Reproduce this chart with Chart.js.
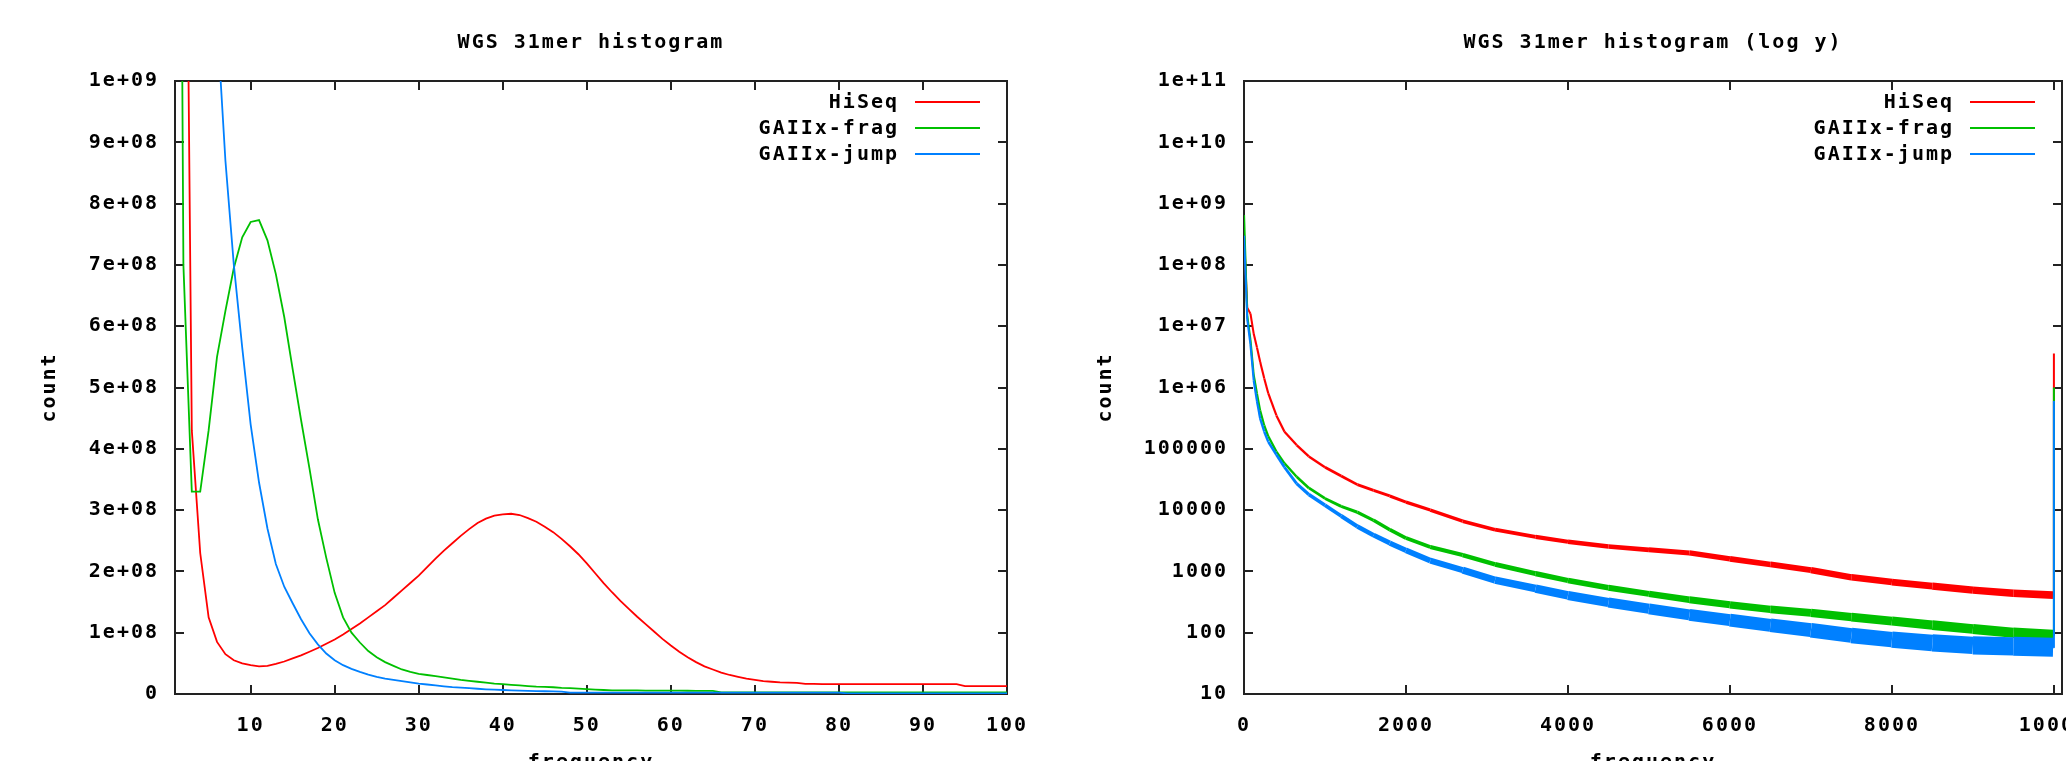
<!DOCTYPE html>
<html>
<head>
<meta charset="utf-8">
<title>WGS 31mer histogram</title>
<script src="https://cdn.jsdelivr.net/npm/chart.js@4.4.1/dist/chart.umd.min.js"></script>
<style>
  html, body { margin: 0; padding: 0; background: #fff; overflow: hidden; }
  #page { position: relative; width: 2066px; height: 761px; overflow: hidden; background: #fff; }
  .panel { position: absolute; top: 0; height: 790px; }
  #linPanel { left: 0; width: 1033px; }
  #logPanel { left: 1033px; width: 1060px; }
</style>
</head>
<body>
<div id="page">
  <div class="panel" id="linPanel"><canvas id="linChart"></canvas></div>
  <div class="panel" id="logPanel"><canvas id="logChart"></canvas></div>
</div>
<script>
// ----- Data: linear panel (x = 1..100, counts in millions) -----
const FREQ = [
  1, 2, 3, 4, 5, 6, 7, 8, 9, 10, 11, 12, 13, 14, 15, 16, 17, 18, 19, 20,
  21, 22, 23, 24, 25, 26, 27, 28, 29, 30, 31, 32, 33, 34, 35, 36, 37, 38, 39, 40,
  41, 42, 43, 44, 45, 46, 47, 48, 49, 50, 51, 52, 53, 54, 55, 56, 57, 58, 59, 60,
  61, 62, 63, 64, 65, 66, 67, 68, 69, 70, 71, 72, 73, 74, 75, 76, 77, 78, 79, 80,
  81, 82, 83, 84, 85, 86, 87, 88, 89, 90, 91, 92, 93, 94, 95, 96, 97, 98, 99, 100
];
const HISEQ_M = [
  2500, 1900, 430, 230, 125, 85, 65, 55, 50, 47, 45, 46, 49, 53, 58, 63, 69, 75, 82, 89,
  97, 106, 115, 125, 135, 145, 157, 169, 181, 193, 207, 221, 234, 246, 258, 269, 279, 286, 291, 293,
  294, 292, 287, 281, 273, 264, 253, 241, 228, 213, 197, 181, 166, 152, 139, 126, 114, 102, 90, 79,
  69, 60, 52, 45, 40, 35, 31, 28, 25, 23, 21, 20, 19, 18.5, 18, 16.5, 16.5, 16, 16, 16,
  16, 16, 16, 16, 16, 16, 16, 16, 16, 16, 16, 16, 16, 16, 13, 13, 13, 13, 13, 13
];
const FRAG_M = [
  3000, 700, 330, 330, 430, 550, 625, 695, 745, 770, 773, 740, 685, 615, 530, 447, 368, 285, 222, 165,
  125, 100, 84, 70, 60, 52, 46, 40, 36, 33, 31, 29, 27, 25, 23, 21.5, 20, 18.5, 17, 16,
  15, 14, 13, 12, 11.5, 11, 10, 9.5, 8.8, 8, 7.2, 6.5, 6, 6, 6, 5.8, 5.6, 5.5, 5.5, 5.5,
  5.4, 5.3, 5.2, 5.1, 5, 2.5, 2.5, 2.5, 2.5, 2.5, 2.5, 2.5, 2.5, 2.5, 2.5, 2.5, 2.5, 2.5, 2.5, 2.5,
  2.5, 2.5, 2.5, 2.5, 2.5, 2.5, 2.5, 2.5, 2.5, 2.5, 2.5, 2.5, 2.5, 2.5, 2.5, 2.5, 2.5, 2.5, 2.5, 2.5
];
const JUMP_M = [
  12000, 8000, 4500, 2800, 1700, 1100, 870, 700, 565, 440, 345, 270, 212, 175, 148, 122, 99, 81, 66, 55,
  47, 41, 36, 31.5, 28, 25, 23, 21, 19, 17, 15.5, 14, 12.5, 11.2, 10.4, 9.5, 8.6, 7.7, 7, 6.5,
  6, 5.5, 5, 4.8, 4.5, 4.3, 4, 2.2, 2.2, 2.2, 2.2, 2.2, 2.2, 2.2, 2.2, 2.2, 2.2, 2.2, 2.2, 2.2,
  2.2, 2.2, 2.2, 2.2, 2.2, 2.2, 2.2, 2.2, 2.2, 2.2, 2.2, 2.2, 2.2, 2.2, 2.2, 2.2, 2.2, 2.2, 2.2, 2.2,
  1, 1, 1, 1, 1, 1, 1, 1, 1, 1, 1, 1, 1, 1, 1, 1, 1, 1, 1, 1
];

// ----- Data: log panel (x = 0..10000) -----
const LOG_FREQ = [1, 40, 80, 120, 160, 200, 250, 300, 400, 500, 650, 800, 1000, 1200, 1400, 1600, 1800, 2000,
  2300, 2700, 3100, 3600, 4000, 4500, 5000, 5500, 6000, 6500, 7000, 7500, 8000, 8500, 9000, 9500, 9990, 10000];
const HISEQ_LOG = [3.1e8, 2.0e7, 1.6e7, 7.5e6, 4.5e6, 2.6e6, 1.4e6, 8e5, 3.5e5, 1.9e5, 1.15e5, 7.5e4, 5.0e4, 3.6e4, 2.6e4, 2.1e4, 1.7e4, 1.35e4,
  1.0e4, 6.6e3, 4.8e3, 3.65e3, 3.05e3, 2.55e3, 2.25e3, 2.0e3, 1.6e3, 1.3e3, 1.05e3, 800, 670, 575, 495, 440, 410, 3.6e6];
const FRAG_LOG = [6.5e8, 1.5e7, 6e6, 1.6e6, 8e5, 4.2e5, 2.4e5, 1.6e5, 9e4, 5.8e4, 3.5e4, 2.3e4, 1.55e4, 1.15e4, 9.2e3, 6.8e3, 4.8e3, 3.5e3,
  2.5e3, 1.85e3, 1.3e3, 920, 710, 540, 430, 345, 285, 240, 210, 180, 155, 133, 115, 100, 92, 1.0e6];
const JUMP_LOG = [3.0e8, 1.3e7, 5e6, 1.3e6, 6e5, 3.1e5, 1.9e5, 1.3e5, 8e4, 5e4, 2.7e4, 1.8e4, 1.2e4, 8e3, 5.4e3, 3.9e3, 2.9e3, 2.2e3,
  1.5e3, 1.05e3, 720, 525, 405, 310, 245, 195, 160, 132, 110, 90, 77, 68, 62, 60, 58, 6.0e5];

// ----- Ticks -----
const LIN_X_TICKS = [10, 20, 30, 40, 50, 60, 70, 80, 90, 100];
const LIN_X_LABELS = ['10', '20', '30', '40', '50', '60', '70', '80', '90', '100'];
const LIN_Y_TICKS = [0, 1e8, 2e8, 3e8, 4e8, 5e8, 6e8, 7e8, 8e8, 9e8, 1e9];
const LIN_Y_LABELS = ['0', '1e+08', '2e+08', '3e+08', '4e+08', '5e+08', '6e+08', '7e+08', '8e+08', '9e+08', '1e+09'];
const LOG_X_TICKS = [0, 2000, 4000, 6000, 8000, 10000];
const LOG_X_LABELS = ['0', '2000', '4000', '6000', '8000', '10000'];
const LOG_Y_TICKS = [10, 100, 1000, 1e4, 1e5, 1e6, 1e7, 1e8, 1e9, 1e10, 1e11];
const LOG_Y_LABELS = ['10', '100', '1000', '10000', '100000', '1e+06', '1e+07', '1e+08', '1e+09', '1e+10', '1e+11'];

const SERIES = ['HiSeq', 'GAIIx-frag', 'GAIIx-jump'];
const COLORS = ['#ff0000', '#00c000', '#0080ff'];

// ----- Look -----
const FONT_FAMILY = "'DejaVu Sans Mono', 'Liberation Mono', monospace";
const FONT_SIZE = 20;
const LETTER_SPACING = '2px';
const AXIS_COLOR = '#222';
const TICK_LEN = 9;

Chart.defaults.font.family = FONT_FAMILY;
Chart.defaults.font.size = FONT_SIZE;
Chart.defaults.font.weight = 'bold';
Chart.defaults.color = '#000';

// ----- gnuplot-ish frame, inward ticks, title and key -----
const gnuplotPlugin = {
  id: 'gnuplot',
  beforeDraw(chart) {
    chart.ctx.letterSpacing = LETTER_SPACING;
  },
  beforeDatasetsDraw(chart) {
    const { ctx, chartArea: { left, right, top, bottom }, scales: { x, y } } = chart;
    ctx.save();
    ctx.strokeStyle = AXIS_COLOR;
    ctx.lineWidth = 2;
    ctx.strokeRect(left, top, right - left, bottom - top);
    ctx.beginPath();
    x.ticks.forEach((t) => {
      const px = Math.round(x.getPixelForValue(t.value));
      ctx.moveTo(px, bottom); ctx.lineTo(px, bottom - TICK_LEN);
      ctx.moveTo(px, top); ctx.lineTo(px, top + TICK_LEN);
    });
    y.ticks.forEach((t) => {
      const py = Math.round(y.getPixelForValue(t.value));
      ctx.moveTo(left, py); ctx.lineTo(left + TICK_LEN, py);
      ctx.moveTo(right, py); ctx.lineTo(right - TICK_LEN, py);
    });
    ctx.stroke();
    ctx.restore();
  },
  afterDraw(chart) {
    const { ctx, chartArea: { left, right, top } } = chart;
    const opts = chart.options.plugins.gnuplot;
    ctx.save();
    ctx.letterSpacing = LETTER_SPACING;
    ctx.font = `bold ${FONT_SIZE}px ${FONT_FAMILY}`;
    ctx.fillStyle = '#000';
    ctx.textBaseline = 'middle';
    ctx.textAlign = 'center';
    ctx.fillText(opts.title, (left + right) / 2, 43);

    // key, top right inside the plot
    const lineEnd = right - 27;
    const lineStart = lineEnd - 65;
    chart.data.datasets.forEach((ds, i) => {
      const rowY = top + 21 + i * 26;
      ctx.textAlign = 'right';
      ctx.fillStyle = '#000';
      ctx.fillText(ds.label, lineStart - 16, rowY + 1);
      ctx.strokeStyle = ds.borderColor;
      ctx.lineWidth = 2;
      ctx.beginPath();
      ctx.moveTo(lineStart, rowY);
      ctx.lineTo(lineEnd, rowY);
      ctx.stroke();
    });
    ctx.restore();
  }
};
Chart.register(gnuplotPlugin);

// ----- Helpers -----
const setTicks = (values) => (scale) => { scale.ticks = values.map((v) => ({ value: v })); };
const fixBox = (w, h) => (scale) => {
  if (w) scale.width = w;
  if (h) scale.height = h;
  scale.paddingLeft = 0; scale.paddingRight = 0;
  scale.paddingTop = 0; scale.paddingBottom = 0;
};
const linPoints = (vals) => FREQ.map((f, i) => ({ x: f, y: vals[i] * 1e6 }));
const logPoints = (vals) => LOG_FREQ.map((f, i) => ({ x: f, y: vals[i] }));

function xAxis(min, max, ticks, labels, height) {
  return {
    type: 'linear', min, max,
    afterBuildTicks: setTicks(ticks),
    afterFit: fixBox(0, height),
    grid: { display: false, drawTicks: false },
    border: { display: false },
    ticks: { autoSkip: false, maxRotation: 0, padding: 20, callback: (v, i) => labels[i] },
    title: { display: true, text: 'frequency', padding: { top: 0, bottom: 15 } }
  };
}
function yAxis(type, min, max, ticks, labels, width, titlePad) {
  return {
    type, min, max,
    afterBuildTicks: setTicks(ticks),
    afterFit: fixBox(width, 0),
    grid: { display: false, drawTicks: false },
    border: { display: false },
    ticks: { autoSkip: false, padding: 16, callback: (v, i) => labels[i] },
    title: { display: true, text: 'count', padding: { top: titlePad, bottom: 0 } }
  };
}

// ----- Linear chart -----
new Chart(document.getElementById('linChart'), {
  type: 'line',
  data: {
    datasets: [HISEQ_M, FRAG_M, JUMP_M].map((vals, i) => ({
      label: SERIES[i],
      data: linPoints(vals),
      borderColor: COLORS[i],
      borderWidth: 1.8,
      pointRadius: 0,
      fill: false,
      order: 3 - i
    }))
  },
  options: {
    animation: false,
    responsive: true,
    maintainAspectRatio: false,
    events: [],
    layout: { padding: { left: 0, right: 26, top: 81, bottom: 0 } },
    plugins: {
      legend: { display: false },
      tooltip: { enabled: false },
      gnuplot: { title: 'WGS 31mer histogram' }
    },
    scales: {
      x: xAxis(1, 100, LIN_X_TICKS, LIN_X_LABELS, 96),
      y: yAxis('linear', 0, 1e9, LIN_Y_TICKS, LIN_Y_LABELS, 175, 38)
    }
  }
});

// ----- Log chart: the noisy tail is shown as a band that widens to the right -----
const BAND_END = [8, 11, 20];
new Chart(document.getElementById('logChart'), {
  type: 'line',
  data: {
    datasets: [HISEQ_LOG, FRAG_LOG, JUMP_LOG].map((vals, i) => ({
      label: SERIES[i],
      data: logPoints(vals),
      borderColor: COLORS[i],
      borderWidth: 2,
      borderCapStyle: 'butt',
      borderJoinStyle: 'round',
      pointRadius: 0,
      fill: false,
      order: 3 - i,
      segment: {
        borderWidth: (c) => {
          const x0 = c.p0.parsed.x;
          if (c.p1.parsed.x >= 10000 || x0 < 40) return 2;
          return 2 + (BAND_END[i] - 2) * (x0 / 10000);
        }
      }
    }))
  },
  options: {
    animation: false,
    responsive: true,
    maintainAspectRatio: false,
    events: [],
    layout: { padding: { left: 0, right: 31, top: 81, bottom: 0 } },
    plugins: {
      legend: { display: false },
      tooltip: { enabled: false },
      gnuplot: { title: 'WGS 31mer histogram (log y)' }
    },
    scales: {
      x: xAxis(0, 10100, LOG_X_TICKS, LOG_X_LABELS, 96),
      y: yAxis('logarithmic', 10, 1e11, LOG_Y_TICKS, LOG_Y_LABELS, 211, 61)
    }
  }
});
</script>
</body>
</html>
